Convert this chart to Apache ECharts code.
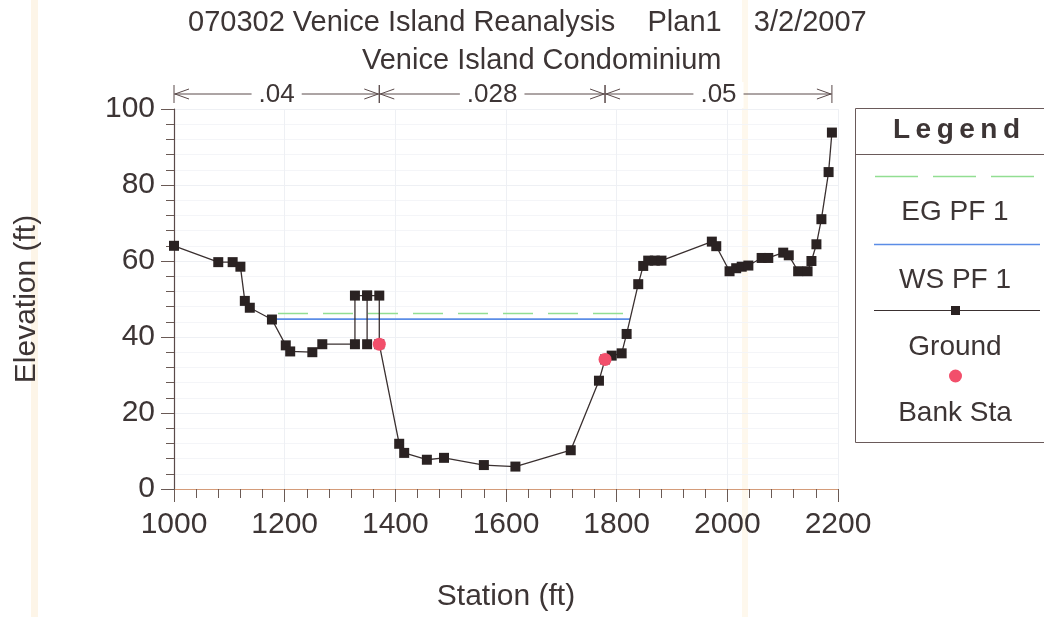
<!DOCTYPE html>
<html>
<head>
<meta charset="utf-8">
<script src="https://cdn.jsdelivr.net/npm/echarts@6/dist/echarts.min.js"></script>
<style>
html,body{margin:0;padding:0;background:#fff;}
#c{width:1044px;height:617px;}
</style>
</head>
<body>
<div id="c"></div>
<script>
// ---- data ----
var titleLine1 = '070302 Venice Island Reanalysis    Plan1    3/2/2007';
var titleLine2 = 'Venice Island Condominium';
var xAxisName = 'Station (ft)';
var yAxisName = 'Elevation (ft)';
var groundStation = [1000,1080,1106,1120,1128,1137,1177,1202,1210,1250,1268,1327,1327,1349,1349,1349,1371,1371,1407,1416,1457,1488,1560,1617,1717,1768,1779,1791,1809,1818,1839,1848,1857,1869,1881,1972,1980,2004,2016,2026,2038,2062,2074,2101,2111,2128,2145,2152,2161,2170,2183,2189];
var groundElev    = [64.0,59.7,59.7,58.5,49.5,47.7,44.6,37.8,36.2,36.0,38.1,38.1,50.9,50.9,38.1,50.9,50.9,38.1,11.9,9.5,7.7,8.2,6.3,5.9,10.2,28.5,34.1,35.1,35.7,40.8,53.9,58.7,60.1,60.1,60.1,65.1,63.9,57.3,58.1,58.5,58.8,60.8,60.8,62.2,61.5,57.3,57.3,60.0,64.4,71.0,83.4,93.8];
var bankStation = [1371,1779];
var bankElev    = [38.1,34.1];
var wsStation = [1179,1824];
var wsElev    = [44.7,44.7];
var egStation = [1188,1825];
var egElev    = [46.2,46.2];
var nBoundaries = [1000,1371,1779,2189];
var nValues = ['.04','.028','.05'];
var legendTitle = 'Legend';
var legendNames = ['EG PF 1','WS PF 1','Ground','Bank Sta'];

var TXT = '#3d3535';
var FONT = '"Liberation Sans", Arial, sans-serif';

function zip(a,b){return a.map(function(v,i){return [v,b[i]];});}

var nData = [];
for (var i=0;i<nValues.length;i++){ nData.push([nBoundaries[i], nBoundaries[i+1], 100, i]); }

var chart = echarts.init(document.getElementById('c'), null, {renderer:'canvas'});

function legendLetters(){
  var letters = legendTitle.split('');
  var fs = 28;
  var em = {L:0.611,e:0.556,g:0.611,n:0.611,d:0.611};
  var widths = letters.map(function(c){return (em[c]||0.6)*fs;});
  var total = 127, sum = widths.reduce(function(a,b){return a+b;},0);
  var gap = (total - sum)/(letters.length-1);
  var x = 893, out = [];
  letters.forEach(function(ch,k){
    out.push({type:'text', x:x, y:130, z:101,
      style:{text:ch, font:'bold '+fs+'px '+FONT, fill:TXT, verticalAlign:'middle', align:'left'}});
    x += widths[k] + gap;
  });
  return out;
}

var graphics = [
  {type:'rect', shape:{x:31,y:0,width:7,height:617}, style:{fill:'rgba(250,222,180,0.3)'}, z:-10, silent:true},
  {type:'rect', shape:{x:742,y:0,width:6,height:617}, style:{fill:'rgba(250,226,185,0.25)'}, z:-10, silent:true},
  {type:'rect', shape:{x:855.5,y:108.5,width:200,height:334}, style:{fill:'#fff', stroke:'#6a5a5a', lineWidth:1}, z:100},
  {type:'line', shape:{x1:855,y1:154.5,x2:1044,y2:154.5}, style:{stroke:'#6a5a5a', lineWidth:1}, z:101},
  {type:'line', shape:{x1:875,y1:176.5,x2:1034,y2:176.5}, style:{stroke:'#92de92', lineWidth:1.5, lineDash:[43,15]}, z:101},
  {type:'text', x:955, y:212, z:101, style:{text:legendNames[0], font:'28px '+FONT, fill:TXT, align:'center', verticalAlign:'middle'}},
  {type:'line', shape:{x1:874,y1:244.5,x2:1040,y2:244.5}, style:{stroke:'#5b8de6', lineWidth:1.5}, z:101},
  {type:'text', x:955, y:280, z:101, style:{text:legendNames[1], font:'28px '+FONT, fill:TXT, align:'center', verticalAlign:'middle'}},
  {type:'line', shape:{x1:874,y1:310.5,x2:1040,y2:310.5}, style:{stroke:'#3a3030', lineWidth:1.2}, z:101},
  {type:'rect', shape:{x:951,y:306,width:9,height:9}, style:{fill:'#2a2222'}, z:102},
  {type:'text', x:955, y:347, z:101, style:{text:legendNames[2], font:'28px '+FONT, fill:TXT, align:'center', verticalAlign:'middle'}},
  {type:'circle', shape:{cx:955.5,cy:376,r:6.5}, style:{fill:'#f24f6b'}, z:101},
  {type:'text', x:955, y:413, z:101, style:{text:legendNames[3], font:'28px '+FONT, fill:TXT, align:'center', verticalAlign:'middle'}}
].concat(legendLetters());

var option = {
  backgroundColor:'#ffffff',
  animation:false,
  textStyle:{fontFamily:FONT},
  title:[
    {text:titleLine1, left:183, top:3, textStyle:{fontSize:29, fontWeight:'normal', color:TXT, fontFamily:FONT}},
    {text:titleLine2, left:357, top:41, textStyle:{fontSize:29, fontWeight:'normal', color:TXT, fontFamily:FONT}}
  ],
  grid:{left:174, right:206, top:109, bottom:124, containLabel:false},
  xAxis:{
    type:'value', min:1000, max:2200, interval:200,
    name:xAxisName, nameLocation:'middle', nameGap:93,
    nameTextStyle:{fontSize:30, color:TXT, fontFamily:FONT},
    axisLine:{show:true, onZero:false, lineStyle:{color:'#d49c7a', width:1.2}},
    axisTick:{show:true, length:13, lineStyle:{color:'#6a5a55', width:1}},
    minorTick:{show:true, splitNumber:5, length:9, lineStyle:{color:'#6a5a55', width:1}},
    axisLabel:{fontSize:30, color:TXT, margin:21, fontFamily:FONT, formatter:function(v){return String(v);}},
    splitLine:{show:true, lineStyle:{color:'#eef0f4', width:1}},
    minorSplitLine:{show:false}
  },
  yAxis:{
    type:'value', min:0, max:100, interval:20,
    name:yAxisName, nameLocation:'middle', nameGap:132, nameRotate:90,
    nameTextStyle:{fontSize:30, color:TXT, fontFamily:FONT},
    axisLine:{show:true, onZero:false, lineStyle:{color:'#5a4a4a', width:1.2}},
    axisTick:{show:true, length:13, lineStyle:{color:'#6a5a55', width:1}},
    minorTick:{show:true, splitNumber:5, length:8, lineStyle:{color:'#6a5a55', width:1}},
    axisLabel:{fontSize:30, color:TXT, margin:19, fontFamily:FONT},
    splitLine:{show:true, lineStyle:{color:'#eef0f4', width:1}},
    minorSplitLine:{show:true, lineStyle:{color:'#f4f5f8', width:1}}
  },
  series:[
    {
      name:legendNames[0], type:'line', data:zip(egStation,egElev), symbol:'none', z:2,
      lineStyle:{color:'#92de92', width:1.5, type:[30,15]}
    },
    {
      name:legendNames[1], type:'line', data:zip(wsStation,wsElev), symbol:'none', z:3,
      lineStyle:{color:'#5b8de6', width:1.6}
    },
    {
      name:legendNames[2], type:'line', data:zip(groundStation,groundElev),
      symbol:'rect', symbolSize:10, z:5,
      lineStyle:{color:'#3a3030', width:1.3},
      itemStyle:{color:'#2a2222', borderWidth:0}
    },
    {
      name:legendNames[3], type:'scatter', data:zip(bankStation,bankElev),
      symbol:'circle', symbolSize:13, z:6,
      itemStyle:{color:'#f24f6b', opacity:1}
    },
    {
      name:'n', type:'custom', clip:false, z:10, data:nData,
      encode:{x:[0,1], y:2},
      renderItem:function(params, api){
        var p0 = api.coord([api.value(0), api.value(2)]);
        var p1 = api.coord([api.value(1), api.value(2)]);
        var y = p0[1] - 15;
        var x0 = p0[0], x1 = p1[0];
        var col = '#5a4a4a';
        var idx = api.value(3);
        return {type:'group', children:[
          {type:'line', shape:{x1:x0,y1:y,x2:x1,y2:y}, style:{stroke:col, lineWidth:1}},
          {type:'line', shape:{x1:x0,y1:y-9,x2:x0,y2:y+9}, style:{stroke:col, lineWidth:1}},
          {type:'line', shape:{x1:x1,y1:y-9,x2:x1,y2:y+9}, style:{stroke:col, lineWidth:1}},
          {type:'polyline', shape:{points:[[x0+15,y-5],[x0+1,y],[x0+15,y+5]]}, style:{stroke:col, fill:null, lineWidth:1}},
          {type:'polyline', shape:{points:[[x1-15,y-5],[x1-1,y],[x1-15,y+5]]}, style:{stroke:col, fill:null, lineWidth:1}},
          {type:'text', x:(x0+x1)/2, y:y+1, style:{text:nValues[idx], font:'26px '+FONT, fill:TXT,
            align:'center', verticalAlign:'middle', backgroundColor:'#fff', padding:[0,7]}}
        ]};
      }
    }
  ],
  graphic:graphics
};
chart.setOption(option);
</script>
</body>
</html>
